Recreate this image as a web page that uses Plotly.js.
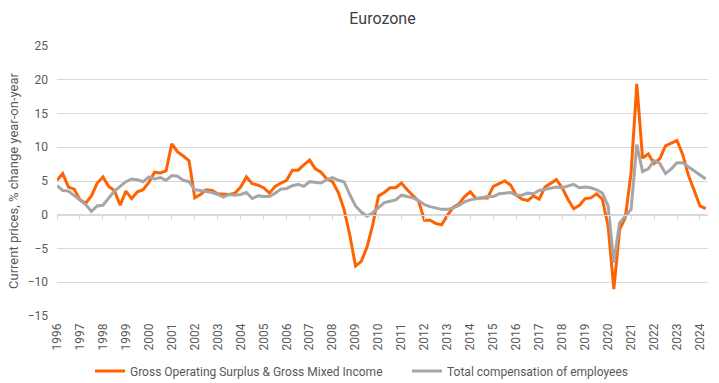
<!DOCTYPE html>
<html>
<head>
<meta charset="utf-8">
<script src="https://cdn.plot.ly/plotly-3.0.1.min.js"></script>
<style>html,body{margin:0;padding:0;background:#fff;}#chart{width:719px;height:383px;}</style>
</head>
<body>
<div id="chart"></div>
<script>
// Years covered (quarterly data, 1996 Q1 – 2024 Q2)
const years = [1996,1997,1998,1999,2000,2001,2002,2003,2004,2005,2006,2007,2008,2009,2010,2011,2012,2013,2014,2015,2016,2017,2018,2019,2020,2021,2022,2023,2024];
const quarterNames = ["Q1","Q2","Q3","Q4"];
const lastQuarterCount = 2; // 2024 has Q1 and Q2

// Gross Operating Surplus & Gross Mixed Income, % y/y
const grossOperatingSurplus = [
  5.1, 6.1, 4.1, 3.8,   2.2, 1.7, 2.8, 4.7,   5.6, 4.2, 3.6, 1.4,   3.5, 2.4, 3.4, 3.7,
  4.8, 6.3, 6.2, 6.5,   10.5, 9.3, 8.7, 8.0,  2.5, 3.0, 3.7, 3.6,   3.1, 3.0, 3.0, 3.2,
  4.1, 5.6, 4.6, 4.4,   4.0, 3.2, 4.2, 4.7,   5.1, 6.6, 6.6, 7.4,   8.1, 6.8, 6.3, 5.3,
  4.9, 3.3, 0.8, -3.0,  -7.6, -6.9, -4.8, -1.5, 2.8, 3.3, 4.0, 4.0, 4.7, 3.7, 2.9, 2.0,
  -0.8, -0.8, -1.3, -1.5, -0.1, 1.1, 1.6, 2.7, 3.4, 2.4, 2.5, 2.5,  4.2, 4.6, 5.0, 4.4,
  2.9, 2.3, 2.1, 2.8,   2.3, 4.1, 4.6, 5.2,   4.0, 2.3, 0.9, 1.4,   2.4, 2.5, 3.1, 2.3,
  -1.7, -11.0, -2.2, -0.4, 6.2, 19.4, 8.4, 9.0, 7.6, 8.3, 10.2, 10.6, 11.0, 8.9, 5.8, 3.6,
  1.3, 0.9
];

// Total compensation of employees, % y/y
const compensationOfEmployees = [
  4.3, 3.6, 3.5, 2.8,   2.1, 1.5, 0.5, 1.3,   1.4, 2.5, 3.5, 4.2,   4.9, 5.3, 5.2, 4.9,
  5.6, 5.3, 5.5, 5.1,   5.8, 5.7, 5.1, 4.9,   3.7, 3.6, 3.5, 3.3,   3.0, 2.6, 3.0, 2.9,
  3.0, 3.3, 2.4, 2.8,   2.7, 2.7, 3.2, 3.8,   3.9, 4.3, 4.5, 4.2,   4.9, 4.8, 4.7, 5.2,
  5.5, 5.1, 4.9, 3.0,   1.3, 0.4, -0.2, 0.3,  1.0, 1.8, 2.0, 2.2,   2.9, 2.7, 2.5, 2.1,
  1.5, 1.2, 1.0, 0.8,   0.8, 1.0, 1.4, 1.9,   2.2, 2.4, 2.5, 2.7,   2.7, 3.1, 3.2, 3.3,
  2.9, 2.9, 3.2, 3.1,   3.6, 3.8, 3.9, 4.1,   4.0, 4.2, 4.5, 4.0,   4.1, 4.0, 3.7, 3.2,
  1.3, -7.1, -1.2, -0.2, 0.8, 10.4, 6.4, 6.8, 8.0, 7.6, 6.1, 6.8,  7.7, 7.7, 7.1, 6.4,
  5.8, 5.3
];

const seriesNames = ["Gross Operating Surplus & Gross Mixed Income", "Total compensation of employees"];
const yTicks = [-15,-10,-5,0,5,10,15,20,25];

// Category labels
const quarters = [];
years.forEach((y, i) => {
  const n = (i === years.length - 1) ? lastQuarterCount : 4;
  for (let q = 0; q < n; q++) quarters.push(y + " " + quarterNames[q]);
});
const yearTickVals = years.map(y => y + " Q1");
const yearTickText = years.map(String);

const FONT = "Roboto, 'Open Sans', sans-serif";
const orange = "#FF6200";
const grey = "#A6A6A6";

const traces = [
  {x: quarters, y: grossOperatingSurplus, name: seriesNames[0], type: "scatter", mode: "lines",
   line: {color: orange, width: 3}, xaxis: "x", yaxis: "y", legend: "legend"},
  {x: quarters, y: compensationOfEmployees, name: seriesNames[1], type: "scatter", mode: "lines",
   line: {color: grey, width: 3}, xaxis: "x2", yaxis: "y", legend: "legend2"}
];

const nQ = quarters.length;
const xRange = [0, nQ - 1 + 0.4];
const legendFont = {family: FONT, size: 12, color: "#595959"};

const layout = {
  width: 719, height: 383,
  margin: {l: 57, r: 11, t: 46, b: 67},
  paper_bgcolor: "#fff", plot_bgcolor: "#fff",
  font: {family: FONT, size: 12, color: "#595959"},
  title: {text: "Eurozone", font: {family: FONT, size: 16, color: "#404040"},
          x: 0.5, xref: "paper", y: 1 - 18/383, yref: "container", yanchor: "middle"},
  showlegend: true,
  legend: {orientation: "h", xref: "container", yref: "container", x: 90/719, xanchor: "left",
           y: 1 - 371/383, yanchor: "middle", font: legendFont},
  legend2: {orientation: "h", xref: "container", yref: "container", x: 407/719, xanchor: "left",
           y: 1 - 371/383, yanchor: "middle", font: legendFont},
  xaxis: {type: "category", categoryorder: "array", categoryarray: quarters,
          range: xRange, tickmode: "array", tickvals: yearTickVals, ticktext: yearTickText,
          tickangle: -90, showgrid: false, zeroline: false, showline: false, ticks: "",
          tickfont: {family: FONT, size: 12, color: "#595959"}, ticklabelstandoff: 4,
          fixedrange: true},
  xaxis2: {type: "category", categoryorder: "array", categoryarray: quarters,
           overlaying: "x", anchor: "free", position: 15/40, side: "bottom",
           range: xRange, tickmode: "array", tickvals: yearTickVals,
           showticklabels: false, ticks: "outside", ticklen: 4, tickcolor: "#d9d9d9", tickwidth: 1,
           showline: true, linecolor: "#d9d9d9", linewidth: 1, showgrid: false, zeroline: false},
  yaxis: {range: [-15, 25], tickmode: "array", tickvals: yTicks, showgrid: true, gridcolor: "#d9d9d9",
          gridwidth: 1, zeroline: false, showline: false, ticks: "", ticklabelstandoff: 8,
          tickfont: {family: FONT, size: 12, color: "#595959"},
          title: {text: "Current prices, % change year-on-year", font: {family: FONT, size: 13, color: "#595959"}, standoff: 6}}
};

Plotly.newPlot("chart", traces, layout, {displayModeBar: false, staticPlot: true});
</script>
</body>
</html>
